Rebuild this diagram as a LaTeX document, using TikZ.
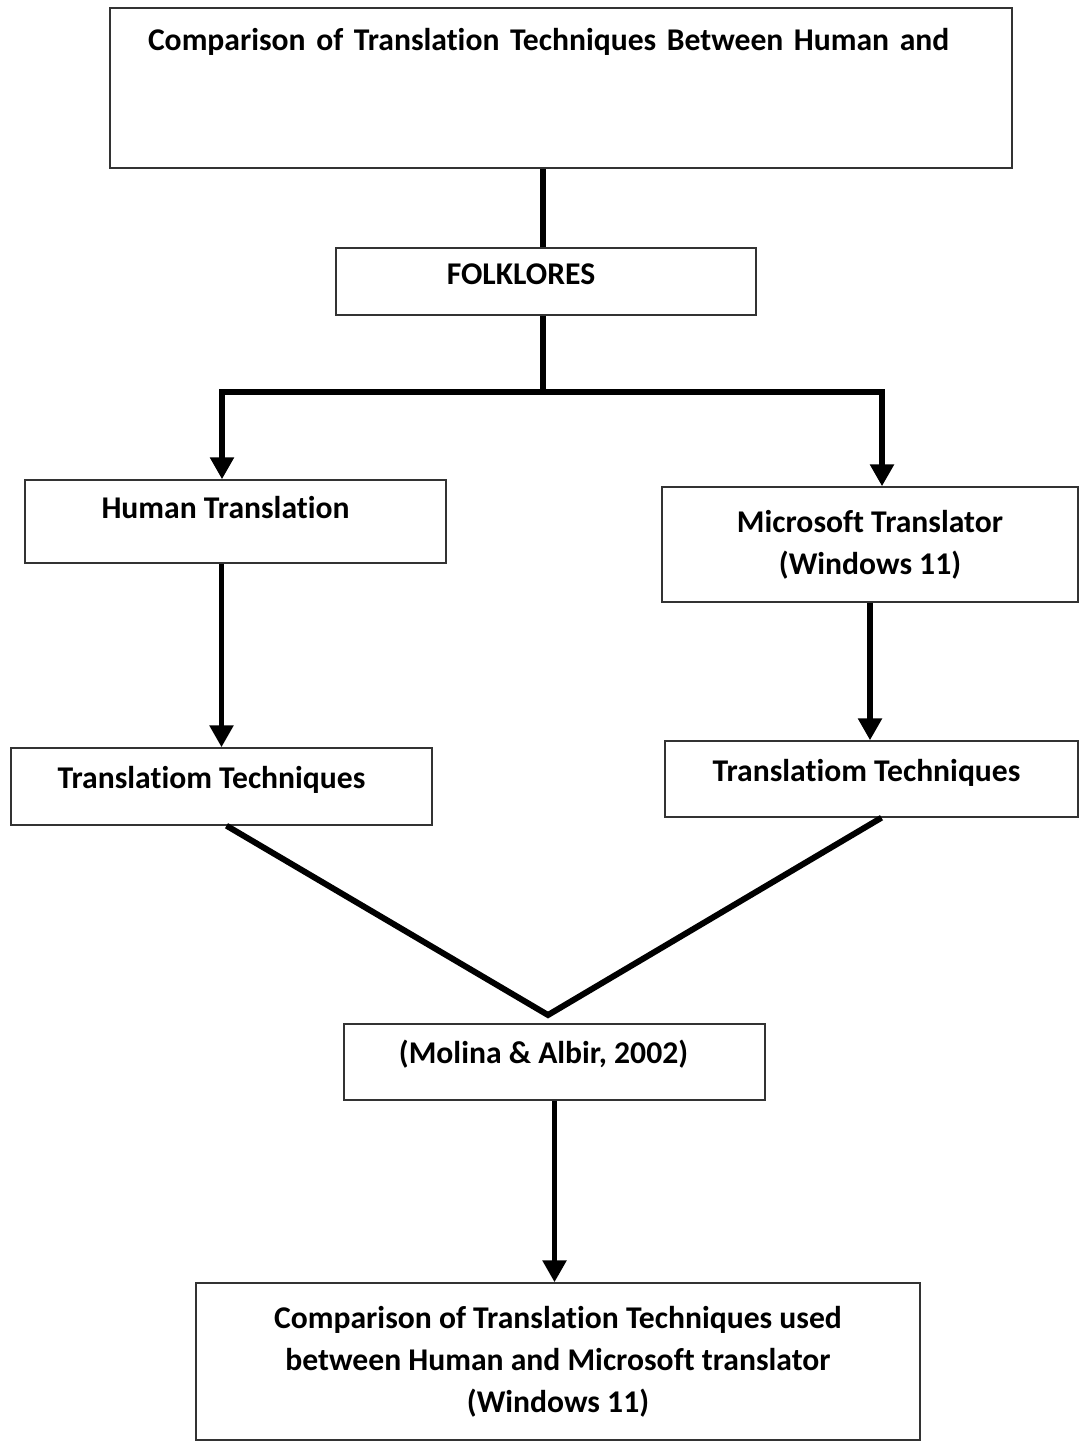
\documentclass[tikz,border=0pt]{standalone}
\usepackage{tikz}
\usepackage{xcolor}
\usepackage{fontspec}
\setmainfont{Carlito}[Ligatures=NoCommon]
\usetikzlibrary{arrows.meta}
\tikzstyle{box} = [rectangle, draw=black!80, line width=0.8pt, text centered, align=center, inner sep=0pt, font=\fontsize{18}{24}\selectfont\bfseries]
\tikzstyle{line} = [line width=3.4pt]
\tikzstyle{arrow} = [line width=3.4pt,-{Triangle[width=0.46cm,length=0.44cm]}]

\begin{document}
\begin{tikzpicture}
\useasboundingbox (0,0) rectangle (21.56,-28.82);
\node (top) [box, align=left, text width=16.52cm, inner xsep=0.76cm, minimum height=3.2cm] at (11.22,-1.76) {\makebox[15.55cm][s]{Comparison of Translation Techniques Between Human and}\\ \strut\\ \strut};
\node (folk) [box, minimum width=8.4cm, minimum height=1.34cm, text depth=0.3cm] at (10.92,-5.63) {\hspace*{-1cm}FOLKLORES};
\node (human) [box, minimum width=8.42cm, minimum height=1.66cm, text depth=0.55cm] at (4.71,-10.43) {\hspace*{-0.4cm}Human Translation};
\node (ms) [box, minimum width=8.32cm, minimum height=2.3cm] at (17.4,-10.89) {Microsoft Translator\\(Windows 11)};
\node (ttl) [box, minimum width=8.42cm, minimum height=1.54cm, text depth=0.35cm] at (4.43,-15.73) {\hspace*{-0.4cm}Translatiom Techniques};
\node (ttr) [box, minimum width=8.26cm, minimum height=1.52cm, text depth=0.35cm] at (17.43,-15.58) {\hspace*{-0.2cm}Translatiom Techniques};
\node (mol) [box, minimum width=8.42cm, minimum height=1.52cm, text depth=0.4cm] at (11.09,-21.24) {\hspace*{-0.44cm}(Molina \& Albir, 2002)};
\node (bot) [box, minimum width=14.48cm, minimum height=3.14cm] at (11.16,-27.23) {Comparison of Translation Techniques used\\between Human and Microsoft translator\\(Windows 11)};

\coordinate (split) at (10.86,-7.84);
\coordinate (meet) at (10.96,-20.3);

\draw [line] (split |- folk.north) -- (split |- top.south);
\draw [line] (split |- folk.south) -- (split);
\draw [arrow] (split) -| ([xshift=-0.27cm]human.north);
\draw [arrow] (split) -| ([xshift=0.24cm]ms.north);
\draw [arrow] (human.south -| ttl.north) -- (ttl.north);
\draw [arrow] (ms.south) -- (ms.south |- ttr.north);
\draw [line] ([xshift=0.1cm]ttl.south) -- (meet) -- ([xshift=0.2cm]ttr.south);
\draw [arrow] (mol.south) -- (mol.south |- bot.north);
\end{tikzpicture}
\end{document}
